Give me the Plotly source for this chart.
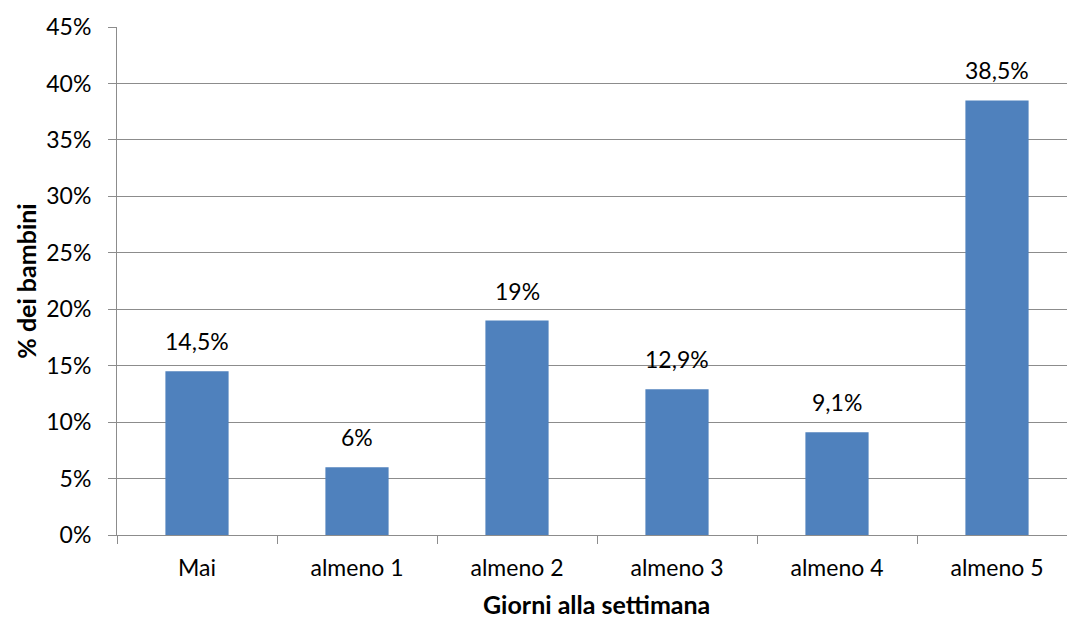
import plotly.graph_objects as go

categories = ["Mai", "almeno 1", "almeno 2", "almeno 3", "almeno 4", "almeno 5"]
values = [14.5, 6, 19, 12.9, 9.1, 38.5]
value_labels = ["14,5%", "6%", "19%", "12,9%", "9,1%", "38,5%"]
y_ticks = [0, 5, 10, 15, 20, 25, 30, 35, 40, 45]
y_tick_labels = [f"{v}%" for v in y_ticks]

FONT = "Lato, 'Open Sans', sans-serif"
FS = 23
FT = 25
GRID = "#8c8c8c"

fig = go.Figure()
fig.add_trace(go.Bar(
    x=categories, y=values,
    marker=dict(color="#4F81BD", line=dict(width=0)),
    width=0.395,
    hoverinfo="skip",
))

for c, v, t in zip(categories, values, value_labels):
    fig.add_annotation(x=c, y=v, text=t, showarrow=False, yanchor="bottom",
                       yshift=14, font=dict(family=FONT, size=FS, color="#000"))

fig.add_annotation(x=0.505, xref="paper", y=0, yref="paper", yshift=-86,
                   text="<b>Giorni alla settimana</b>", showarrow=False,
                   yanchor="bottom", font=dict(family=FONT, size=FT, color="#000"))

fig.update_layout(
    width=1067, height=621,
    margin=dict(l=117, r=0, t=27, b=86),
    paper_bgcolor="white", plot_bgcolor="white",
    showlegend=False,
    bargap=0.6,
    font=dict(family=FONT, size=FS, color="#000"),
)

fig.update_xaxes(
    range=[-0.5, 5.4375],
    showline=True, linecolor=GRID, linewidth=1,
    ticks="outside", tickson="boundaries", ticklen=8, tickcolor=GRID,
    showgrid=False, zeroline=False,
    tickfont=dict(family=FONT, size=FS, color="#000"),
    ticklabelstandoff=12,
)
fig.update_yaxes(
    range=[0, 45],
    tickvals=y_ticks, ticktext=y_tick_labels,
    showline=True, linecolor=GRID, linewidth=1,
    ticks="outside", ticklen=8, tickcolor=GRID,
    showgrid=True, gridcolor=GRID, gridwidth=1,
    zeroline=False,
    tickfont=dict(family=FONT, size=FS, color="#000"),
    ticklabelstandoff=12,
    title=dict(text="<b>% dei bambini</b>", font=dict(family=FONT, size=25, color="#000"), standoff=2),
)

fig.write_html("out.html")
